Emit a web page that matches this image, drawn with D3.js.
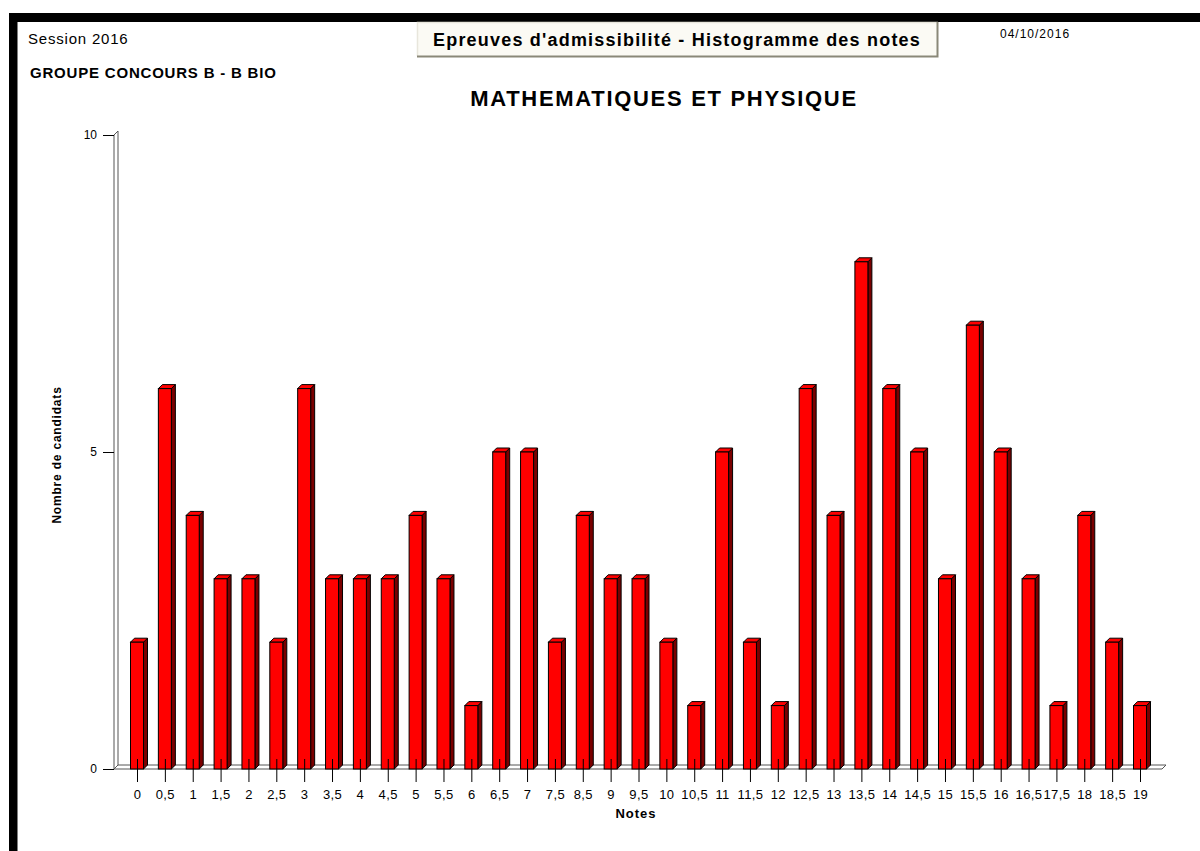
<!DOCTYPE html>
<html>
<head>
<meta charset="utf-8" />
<title>Histogramme des notes</title>
<style>
html, body {
    padding: 0px;
    margin: 0px;
    background: #fff;
}
svg text {
    font-family: "Liberation Sans", Arial, sans-serif;
    fill: #000;
}
.axis path { display: none; }
.axis line { stroke: #000; }
</style>
</head>
<body>
<div id="chart"></div>
<script src="https://cdn.jsdelivr.net/npm/d3@7"></script>
<script>
!(function(){
    "use strict"

    // notes (8 and 17 have no candidates, so no column)
    var notes = ["0","0,5","1","1,5","2","2,5","3","3,5","4","4,5","5","5,5","6","6,5","7","7,5",
                 "8,5","9","9,5","10","10,5","11","11,5","12","12,5","13","13,5","14","14,5","15",
                 "15,5","16","16,5","17,5","18","18,5","19"]
    var candidats = [2,6,4,3,3,2,6,3,3,3,4,3,1,5,5,2,
                     4,3,3,2,1,5,2,1,6,4,8,6,5,3,
                     7,5,3,1,4,2,1]
    var yTicks = [0, 5, 10]

    var W = 1200, H = 851
    var depth = 4 // 3d offset

    var svg = d3.select("#chart").append("svg")
        .attr("width", W).attr("height", H)

    // frame
    svg.append("rect").attr("x", 9).attr("y", 13).attr("width", W - 9).attr("height", 9).attr("fill", "#000")
    svg.append("rect").attr("x", 9).attr("y", 13).attr("width", 8.5).attr("height", H - 13).attr("fill", "#000")

    // header
    svg.append("text").attr("x", 28).attr("y", 44).attr("font-size", 15)
        .attr("letter-spacing", 0.8).text("Session 2016")
    svg.append("text").attr("x", 30).attr("y", 78).attr("font-size", 15).attr("font-weight", "bold")
        .attr("letter-spacing", 0.8).text("GROUPE CONCOURS B - B BIO")
    svg.append("text").attr("x", 1000).attr("y", 38).attr("font-size", 12)
        .attr("letter-spacing", 1).text("04/10/2016")

    var box = svg.append("g")
    box.append("rect").attr("x", 417).attr("y", 22).attr("width", 521).attr("height", 34)
        .attr("fill", "#fbfaf4")
    box.append("path").attr("d", "M417.5,56V22.5H938").attr("fill", "none").attr("stroke", "#e8e6dc").attr("stroke-width", 1.5)
    box.append("path").attr("d", "M417,56.5H937.5V22").attr("fill", "none").attr("stroke", "#8a8878").attr("stroke-width", 2)
    box.append("text").attr("x", 677).attr("y", 46).attr("text-anchor", "middle")
        .attr("font-size", 18).attr("font-weight", "bold").attr("letter-spacing", 1.2)
        .text("Epreuves d'admissibilité - Histogramme des notes")

    svg.append("text").attr("x", 664).attr("y", 106).attr("text-anchor", "middle")
        .attr("font-size", 22).attr("font-weight", "bold").attr("letter-spacing", 1.7)
        .text("MATHEMATIQUES ET PHYSIQUE")

    var x = d3.scalePoint().domain(notes).range([137, 1140])
    var y = d3.scaleLinear().domain([0, 10]).range([769, 135])

    var x0 = 114, x1 = 1162

    // wall + floor
    svg.append("path")
        .attr("d", "M" + x0 + "," + y(10) + "V" + y(0) + "l" + depth + "," + (-depth) + "V" + (y(10) - depth) + "Z")
        .attr("fill", "#fff").attr("stroke", "#555").attr("stroke-width", 1)
    svg.append("path")
        .attr("d", "M" + x0 + "," + y(0) + "H" + x1 + "l" + depth + "," + (-depth) + "H" + (x0 + depth) + "Z")
        .attr("fill", "#fff").attr("stroke", "#555").attr("stroke-width", 1)

    // bars
    var bw = 13
    var bars = svg.append("g").selectAll("g").data(candidats).enter().append("g")
    bars.append("path")
        .attr("d", function(d, i){
            var l = x(notes[i]) - bw / 2, t = y(d)
            return "M" + (l + bw) + "," + t + "l" + depth + "," + (-depth) + "V" + (y(0) - depth) + "l" + (-depth) + "," + depth + "Z"
        })
        .attr("fill", "#7a0000").attr("stroke", "#000").attr("stroke-width", 1)
    bars.append("path")
        .attr("d", function(d, i){
            var l = x(notes[i]) - bw / 2, t = y(d)
            return "M" + l + "," + t + "l" + depth + "," + (-depth) + "h" + bw + "l" + (-depth) + "," + depth + "Z"
        })
        .attr("fill", "#ff0000").attr("stroke", "#000").attr("stroke-width", 1)
    bars.append("rect")
        .attr("x", function(d, i){ return x(notes[i]) - bw / 2 })
        .attr("y", function(d){ return y(d) })
        .attr("width", bw)
        .attr("height", function(d){ return y(0) - y(d) })
        .attr("fill", "#ff0000").attr("stroke", "#000").attr("stroke-width", 1)

    // axes
    var yAxis = svg.append("g").attr("class", "axis")
        .attr("transform", "translate(" + x0 + ",0)")
        .call(d3.axisLeft(y).tickValues(yTicks).tickSize(11).tickPadding(6))
    yAxis.selectAll("text").attr("font-size", 12).attr("font-family", "'Liberation Sans', Arial")

    var xAxis = svg.append("g").attr("class", "axis")
        .attr("transform", "translate(0," + (y(0) - 10) + ")")
        .call(d3.axisBottom(x).tickSize(23).tickPadding(8))
    xAxis.selectAll("text").attr("font-size", 13).attr("letter-spacing", 0.4)
        .attr("font-family", "'Liberation Sans', Arial")

    svg.append("text")
        .attr("transform", "translate(61,455) rotate(-90)")
        .attr("text-anchor", "middle").attr("font-size", 12).attr("font-weight", "bold")
        .attr("letter-spacing", 0.8)
        .text("Nombre de candidats")
    svg.append("text").attr("x", 636).attr("y", 818).attr("text-anchor", "middle")
        .attr("font-size", 13).attr("font-weight", "bold").attr("letter-spacing", 1)
        .text("Notes")
}());
</script>
</body>
</html>
